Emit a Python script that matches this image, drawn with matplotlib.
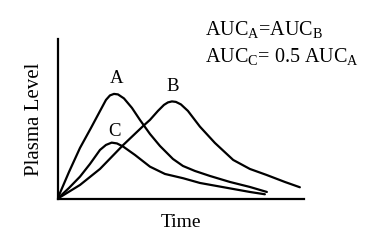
import matplotlib
matplotlib.use("Agg")
import matplotlib.pyplot as plt

plt.rcParams['font.family'] = ['Liberation Serif', 'DejaVu Serif']
plt.rcParams['mathtext.fontset'] = 'custom'
plt.rcParams['mathtext.rm'] = 'Liberation Serif'

# curves (arbitrary units)
time_a = [0, 11.5, 22.5, 33.5, 44.2, 48.5, 52.5, 56.5, 60.5, 66.5, 74.5, 82.5,
          92.5, 102.5, 115.5, 125.5, 137.5, 152.5, 172.5, 192.5, 209.5]
level_a = [0, 26.8, 50.8, 70.8, 90.8, 98.8, 103.3, 104.8, 104.3, 100.3, 90.8, 78.8,
           64.8, 52.8, 39.8, 32.8, 27.8, 22.8, 16.8, 11.8, 6.8]

time_b = [0, 22.5, 42.5, 65.8, 85.8, 92.5, 100.5, 106.5, 110.5, 114.5, 118.5, 123.5,
          130.5, 142.5, 157.5, 175.8, 192.5, 209.2, 227.5, 242.5]
level_b = [0, 13.8, 29.8, 53.8, 72.8, 78.8, 87.8, 93.8, 96.3, 97.3, 96.8, 94.3,
           87.8, 72.1, 55.8, 38.8, 29.8, 23.8, 16.8, 11.5]

time_c = [0, 11.5, 22.5, 32.5, 42.5, 48.5, 54.2, 59.5, 65.8, 77.5, 92.5, 107.5,
          125.8, 142.5, 175.8, 192.5, 207.5]
level_c = [0, 10.8, 22.1, 34.8, 48.8, 53.8, 56.1, 55.3, 52.1, 43.8, 32.1, 24.8,
           20.5, 15.8, 9.8, 6.8, 4.5]

curve_names = ["A", "B", "C"]
label_pos = [(59, 120), (115, 112), (57.5, 67)]

fig = plt.figure(figsize=(3.71, 2.46), dpi=100)
ax = fig.add_axes([0.155, 0.192, 0.664, 0.65])

for t, lv in [(time_a, level_a), (time_b, level_b), (time_c, level_c)]:
    ax.plot(t, lv, color="black", lw=1.6, solid_joinstyle="round",
            solid_capstyle="round")

for name, (x, y) in zip(curve_names, label_pos):
    ax.text(x, y, name, fontsize=13.5, ha="center", va="center")

ax.set_xlim(0, 246.5)
ax.set_ylim(0, 159.8)
ax.set_xticks([])
ax.set_yticks([])
ax.spines['top'].set_visible(False)
ax.spines['right'].set_visible(False)
for s in ['left', 'bottom']:
    ax.spines[s].set_linewidth(1.6)

ax.set_xlabel("Time", fontsize=14, labelpad=11)
ax.set_ylabel("Plasma Level", fontsize=15, labelpad=10)

fig.text(205/371, 1-30/246, r"AUC$_\mathrm{A}$=AUC$_\mathrm{B}$",
         fontsize=14.5, va="center", ha="left")
fig.text(205/371, 1-57/246, r"AUC$_\mathrm{C}$= 0.5 AUC$_\mathrm{A}$",
         fontsize=14.5, va="center", ha="left")

fig.savefig("out.png", dpi=100)
